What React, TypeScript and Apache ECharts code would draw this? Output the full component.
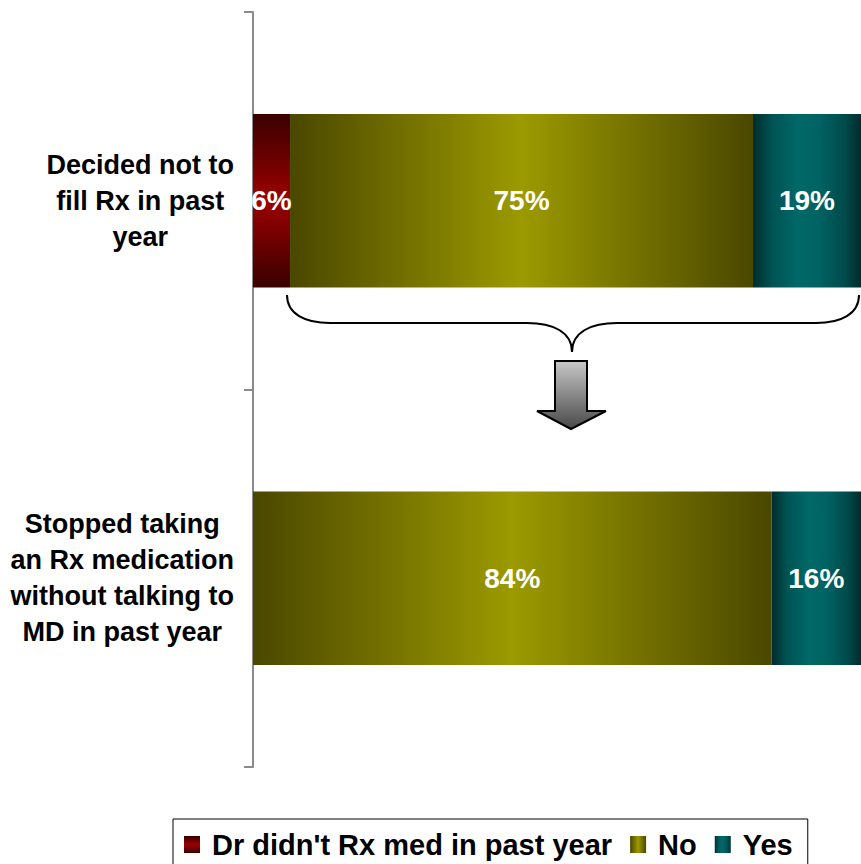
import React, { useEffect, useRef } from "react";
import * as echarts from "echarts";

const categories = [
  "Decided not to\nfill Rx in past\nyear",
  "Stopped taking\nan Rx medication\nwithout talking to\nMD in past year",
];
const seriesNames = ["Dr didn't Rx med in past year", "No", "Yes"];
const drDidntRx: (number | null)[] = [6, null];
const noValues: number[] = [75, 84];
const yesValues: number[] = [19, 16];

const FONT = '"Liberation Sans", Arial, Helvetica, sans-serif';

const linear = (horizontal: boolean, stops: [number, string][]) => ({
  type: "linear",
  x: 0,
  y: 0,
  x2: horizontal ? 1 : 0,
  y2: horizontal ? 0 : 1,
  colorStops: stops.map(([offset, color]) => ({ offset, color })),
});

const redFill = linear(false, [
  [0, "#3a0000"],
  [0.5, "#9c0000"],
  [1, "#3a0000"],
]);
const oliveFill = linear(true, [
  [0, "#4a4700"],
  [0.5, "#9c9a00"],
  [1, "#4a4700"],
]);
const tealFill = linear(true, [
  [0, "#002c2c"],
  [0.18, "#005454"],
  [0.42, "#006868"],
  [0.62, "#006262"],
  [0.85, "#004a4a"],
  [1, "#002c2c"],
]);

const BRACE_D =
  "M287 295 C287 314 305 323 330 323 L527 323 C553 323 572 332 572 352 C572 332 591 323 617 323 L816 323 C841 323 859 314 859 295";

export default function App() {
  const ref = useRef<HTMLDivElement>(null);

  useEffect(() => {
    if (!ref.current) return;
    try {
      echarts.graphic.registerShape("brace", echarts.graphic.extendPath(BRACE_D, {}));
    } catch (e) {}
    const chart = echarts.init(ref.current, undefined, { renderer: "svg" });

    const label = {
      show: true,
      position: "inside",
      color: "#ffffff",
      fontSize: 28,
      fontWeight: "bold",
      fontFamily: FONT,
      formatter: (p: any) => (p.value == null ? "" : p.value + "%"),
    };

    chart.setOption({
      animation: false,
      textStyle: { fontFamily: FONT },
      grid: {
        left: 253,
        right: 0,
        top: 12,
        bottom: 97,
        containLabel: false,
        outerBoundsMode: "none",
      },
      xAxis: {
        type: "value",
        min: 0,
        max: 98.5,
        show: false,
        splitLine: { show: false },
      },
      yAxis: {
        type: "category",
        inverse: true,
        data: categories,
        axisLine: { show: true, lineStyle: { color: "#8a8a8a", width: 2 } },
        axisTick: { show: true, inside: false, length: 9, lineStyle: { color: "#8a8a8a", width: 2 } },
        splitLine: { show: false },
        axisLabel: {
          margin: 19,
          align: "right",
          fontSize: 27,
          fontWeight: "bold",
          color: "#000",
          fontFamily: FONT,
          formatter: (v: string) =>
            v
              .split("\n")
              .map((l) => `{c|${l}}`)
              .join("\n"),
          rich: {
            c: {
              align: "center",
              fontSize: 27,
              fontWeight: "bold",
              color: "#000",
              fontFamily: FONT,
              lineHeight: 36,
            },
          },
        },
      },
      legend: {
        data: seriesNames,
        left: 173,
        top: 819,
        orient: "horizontal",
        borderColor: "#000",
        borderWidth: 1,
        padding: [11, 15, 12, 11],
        itemWidth: 16,
        itemHeight: 17,
        itemGap: 18,
        icon: "rect",
        selectedMode: false,
        textStyle: {
          fontSize: 29,
          fontWeight: "bold",
          color: "#000",
          fontFamily: FONT,
          padding: [0, 0, 0, 7],
        },
      },
      series: [
        {
          name: seriesNames[0],
          type: "bar",
          stack: "total",
          barWidth: "46%",
          data: drDidntRx,
          itemStyle: { color: redFill },
          label,
        },
        {
          name: seriesNames[1],
          type: "bar",
          stack: "total",
          barWidth: "46%",
          data: noValues,
          itemStyle: { color: oliveFill },
          label,
        },
        {
          name: seriesNames[2],
          type: "bar",
          stack: "total",
          barWidth: "46%",
          data: yesValues,
          itemStyle: { color: tealFill },
          label,
        },
      ],
      graphic: [
        {
          type: "brace",
          x: 0,
          y: 0,
          silent: true,
          style: { fill: "none", stroke: "#000", lineWidth: 2 },
        },
        {
          type: "polygon",
          silent: true,
          shape: {
            points: [
              [555, 361],
              [587, 361],
              [587, 411],
              [606, 411],
              [571, 429],
              [537, 411],
              [555, 411],
            ],
          },
          style: {
            fill: linear(false, [
              [0, "#c8c8c8"],
              [0.7, "#6e6e6e"],
              [1, "#4a4a4a"],
            ]),
            stroke: "#000",
            lineWidth: 2,
          },
        },
      ],
    });

    return () => chart.dispose();
  }, []);

  return (
    <div
      ref={ref}
      style={{ position: "absolute", left: 0, top: 0, width: 861, height: 864 }}
    />
  );
}
